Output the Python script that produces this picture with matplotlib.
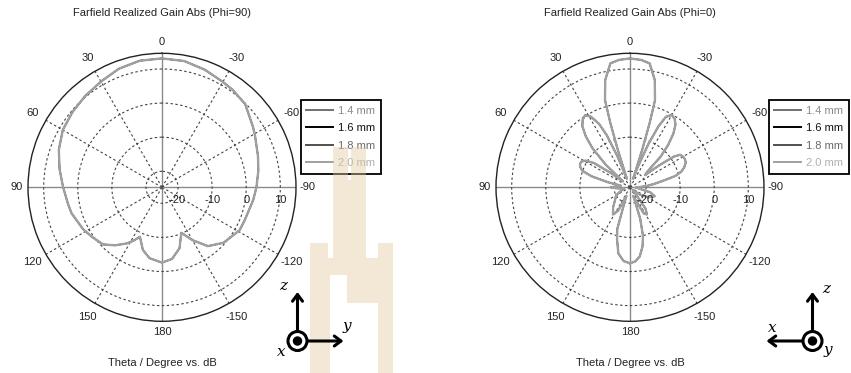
import numpy as np
import matplotlib
matplotlib.use("Agg")
import matplotlib.pyplot as plt
from matplotlib.patches import Rectangle, Circle

plt.rcParams['font.family'] = ['Liberation Sans', 'DejaVu Sans']
plt.rcParams['font.size'] = 8

# ---- data (theta in degrees, gain in dB) ----
series_names = ["1.4 mm", "1.6 mm", "1.8 mm", "2.0 mm"]
line_colors = ["#707070", "#000000", "#505050", "#a0a0a0"]
text_colors = ["#8a8a8a", "#111111", "#6a6a6a", "#b0b0b0"]

# Phi = 90 cut (all four thicknesses overlap)
theta_phi90 = [-180, -172, -164, -157, -150, -142, -132, -119, -112, -98, -90, -80,
               -72, -60, -56, -45, -36, -30, -20, -10, 0, 10, 20, 30, 40, 50, 60,
               70, 80, 90, 100, 106, 118, 125, 134, 141, 148, 152, 156, 163, 170, 180]
gain_phi90 = [-2.6, -3.5, -6.1, -10.2, -6.8, -2.8, -0.4, 1.3, 1.4, 2.3, 3.0, 4.0,
              4.9, 6.7, 7.4, 9.8, 10.6, 11.0, 12.0, 12.9, 13.1, 13.0, 12.3, 11.1, 10.3, 9.6, 8.9,
              7.5, 5.8, 4.3, 3.3, 2.9, 1.5, 0.5, -0.6, -2.8, -5.3, -7.0, -8.8, -5.5, -3.6, -2.6]

# Phi = 0 cut
theta_phi0 = [-180, -176, -172, -168, -165, -162, -159, -156, -152, -148, -144, -140,
              -134, -126, -118, -110, -104, -98, -92, -86, -82, -79, -76, -73, -70,
              -66, -63, -60, -57, -55, -53, -51, -48, -45, -42, -39, -36, -33, -30,
              -27, -25, -23, -21, -20, -18, -17, -16, -13, -9, -5, 0, 5, 9, 13, 16,
              17, 18, 20, 22, 24, 26, 29, 32, 35, 38, 41, 44, 47, 50, 53, 56, 59, 62,
              65, 68, 71, 74, 77, 80, 85, 90, 95, 100, 110, 120, 130, 140, 148, 153,
              157, 160, 163, 166, 170, 175, 180]
gain_phi0 = [-2.4, -2.9, -4.2, -7.0, -10.0, -15.0, -22.0, -20.0, -16.0, -15.3, -17.0, -22.0,
             -23.5, -21.0, -18.5, -17.0, -18.5, -22.0, -23.0, -20.0, -17.5, -15.0, -11.0, -9.0, -7.8,
             -6.8, -6.6, -6.7, -7.2, -9.0, -14.0, -19.0, -18.0, -12.0, -8.0, -4.5, -2.0, -0.7, -0.2,
             -1.5, -5.0, -11.0, -18.0, -22.0, -13.0, -5.0, 1.9, 7.6, 12.1, 12.8, 13.1, 12.8, 12.1, 7.6, 1.9,
             -5.0, -13.0, -22.0, -15.0, -8.0, -4.0, -1.0, 0.2, -0.5, -2.0, -5.0, -9.0, -15.0, -22.0, -18.0, -12.0, -9.5, -8.6,
             -8.5, -9.0, -10.0, -13.0, -18.0, -22.0, -21.0, -19.0, -21.0, -23.0, -22.0, -20.0, -19.0, -17.0, -15.3, -17.0,
             -22.0, -20.0, -12.0, -9.0, -5.0, -3.0, -2.4]

theta_ticks = [0, 30, 60, 90, 120, 150, 180, -150, -120, -90, -60, -30]
r_ticks = [-20, -10, 0, 10]
r_min, r_max = -24.7, 14.6

fig = plt.figure(figsize=(8.51, 3.73), dpi=100)
W, H = 851, 373


def polar_panel(cx, title, theta, gain):
    cy, rad = 187.3, 134.0
    ax = fig.add_axes([(cx - rad) / W, (H - cy - rad) / H, 2 * rad / W, 2 * rad / H],
                      projection='polar')
    ax.set_theta_zero_location('N')
    ax.set_theta_direction(1)
    ax.set_ylim(r_min, r_max)
    ax.set_thetagrids(np.arange(0, 360, 30))
    ax.set_rgrids(r_ticks)
    ax.set_xticklabels([])
    ax.set_yticklabels([])
    ax.grid(True, color="#444444", ls=(0, (2.2, 2.2)), lw=0.8)
    for ang, gl in zip(np.arange(0, 360, 30), ax.xaxis.get_gridlines()):
        if ang % 90 == 0:
            gl.set_linestyle('-')
            gl.set_color('#8a8a8a')
            gl.set_linewidth(1.0)
    ax.spines['polar'].set_color('#222222')
    ax.spines['polar'].set_linewidth(1.0)

    handles = []
    for i, (name, c) in enumerate(zip(series_names, line_colors)):
        lw = 1.7 if i == len(series_names) - 1 else 1.0
        h, = ax.plot(np.deg2rad(theta), gain, color=c, lw=lw, label=name)
        handles.append(h)

    # angle labels
    for t in theta_ticks:
        px = 145.0 if t % 90 == 0 else 149.5
        r_lab = r_min + px / rad * (r_max - r_min)
        ax.text(np.deg2rad(t), r_lab, str(t), ha='center', va='center',
                fontsize=8, color='#222222')
    # radial labels along the -90 direction
    for r in r_ticks:
        ax.annotate(str(r), xy=(np.deg2rad(-90), r), xytext=(0, -13),
                    textcoords='offset pixels', ha='center', va='center',
                    fontsize=8, color='#222222')

    fig.text(cx / W, 1 - 13 / H, title, ha='center', va='center', fontsize=8, color='#222222')
    fig.text(cx / W, 1 - 362.5 / H, "Theta / Degree vs. dB", ha='center', va='center',
             fontsize=8, color='#222222')

    leg = ax.legend(handles=handles, loc='upper left',
                    bbox_to_anchor=((cx + 138.7) / W, 1 - 100 / H),
                    bbox_transform=fig.transFigure, fancybox=False, framealpha=1,
                    edgecolor='black', handlelength=2.4, handletextpad=0.45,
                    borderpad=0.5, labelspacing=0.68, borderaxespad=0, fontsize=8)
    leg.get_frame().set_linewidth(1.3)
    for line in leg.get_lines():
        line.set_linewidth(1.4)
    for txt, c in zip(leg.get_texts(), text_colors):
        txt.set_color(c)
    return ax


polar_panel(162.0, "Farfield Realized Gain Abs (Phi=90)", theta_phi90, gain_phi90)
polar_panel(630.0, "Farfield Realized Gain Abs (Phi=0)", theta_phi0, gain_phi0)

# overlay in pixel coordinates: coordinate triads and watermark
ov = fig.add_axes([0, 0, 1, 1], facecolor='none')
ov.set_xlim(0, W)
ov.set_ylim(H, 0)
ov.axis('off')

# faint logo watermark in the middle (non-overlapping pieces)
tan = '#e3c89c'
for (x0, y0), (x1, y1) in [((333, 147), (347.5, 180)), ((351, 147), (366, 180)),
                           ((333, 180), (366, 258)), ((310, 258), (393, 275)),
                           ((310, 243), (328, 258)), ((378, 243), (393, 258)),
                           ((310, 275), (330, 373)), ((378, 275), (393, 373)),
                           ((347, 275), (378, 303))]:
    ov.add_patch(Rectangle((x0, y0), x1 - x0, y1 - y0, color=tan, alpha=0.42, lw=0,
                           antialiased=False, zorder=1))

arrow_kw = dict(arrowstyle='->,head_length=0.6,head_width=0.45', color='black', lw=2.2,
                shrinkA=0, shrinkB=0)


def triad(cx, cy, horiz_dir, h_label, d_label, h_lab_xy, d_lab_xy):
    ov.annotate('', xy=(cx, 292), xytext=(cx, cy - 9), arrowprops=arrow_kw, zorder=5)
    ov.annotate('', xy=(cx + horiz_dir * 46, cy), xytext=(cx + horiz_dir * 9, cy),
                arrowprops=arrow_kw, zorder=5)
    ov.add_patch(Circle((cx, cy), 9.5, facecolor='white', edgecolor='black', lw=2.2, zorder=6))
    ov.add_patch(Circle((cx, cy), 4.0, color='black', zorder=7))
    font = dict(family='DejaVu Serif', style='italic', fontsize=11, ha='center', va='center')
    ov.text(h_lab_xy[0], h_lab_xy[1], h_label, **font)
    ov.text(d_lab_xy[0], d_lab_xy[1], d_label, **font)


triad(297.5, 341, 1, 'y', 'x', (347, 326), (281, 352))
ov.text(283, 286, 'z', family='DejaVu Serif', style='italic', fontsize=11, ha='center', va='center')
triad(812.5, 341, -1, 'x', 'y', (772, 328), (828, 350))
ov.text(826, 289, 'z', family='DejaVu Serif', style='italic', fontsize=11, ha='center', va='center')

fig.savefig("out.png", dpi=100)
